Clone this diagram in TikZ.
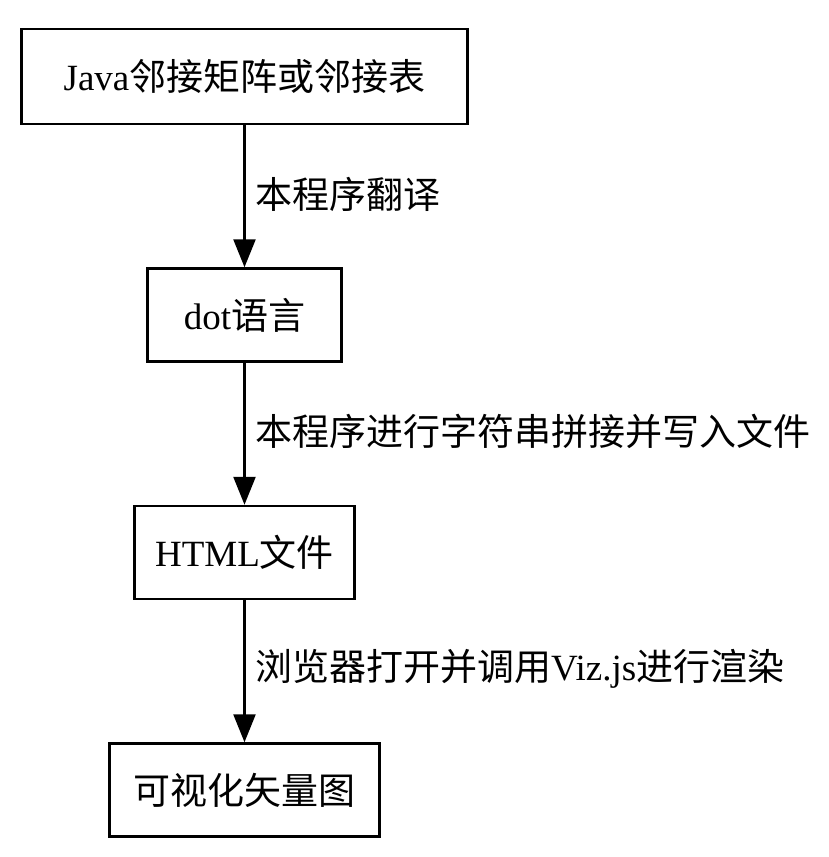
\documentclass[tikz,border=0pt]{standalone}
\usepackage{fontspec}
\setmainfont{Liberation Serif}
\newfontfamily\cjk{Noto Sans CJK SC}
\usetikzlibrary{positioning,arrows.meta}
\tikzstyle{stage}=[draw, line width=2.5pt, rectangle, minimum height=93pt, font=\fontsize{37}{44}\selectfont]
\tikzstyle{lbl}=[font=\fontsize{37}{44}\selectfont, right, xshift=6pt, yshift=2pt]

\begin{document}
\begin{tikzpicture}[x=1pt,y=1pt,>={Triangle[length=28pt,width=22pt]}]
\useasboundingbox (0,0) rectangle (829,-857);
\node[stage, minimum width=446pt, minimum height=95pt] (java) at (244.5,-76.5) {Java{\cjk 邻接矩阵或邻接表}};
\node[stage, minimum width=194pt, below=142pt of java] (dot) {dot{\cjk 语言}};
\node[stage, minimum width=220pt, below=142pt of dot] (html) {HTML{\cjk 文件}};
\node[stage, minimum width=270pt, below=142pt of html] (svg) {\cjk 可视化矢量图};

\draw[->, line width=2.5pt] (java) -- node[lbl] {\cjk 本程序翻译} (dot);
\draw[->, line width=2.5pt] (dot) -- node[lbl] {\cjk 本程序进行字符串拼接并写入文件} (html);
\draw[->, line width=2.5pt] (html) -- node[lbl] {{\cjk 浏览器打开并调用}Viz.js{\cjk 进行渲染}} (svg);

\end{tikzpicture}
\end{document}
